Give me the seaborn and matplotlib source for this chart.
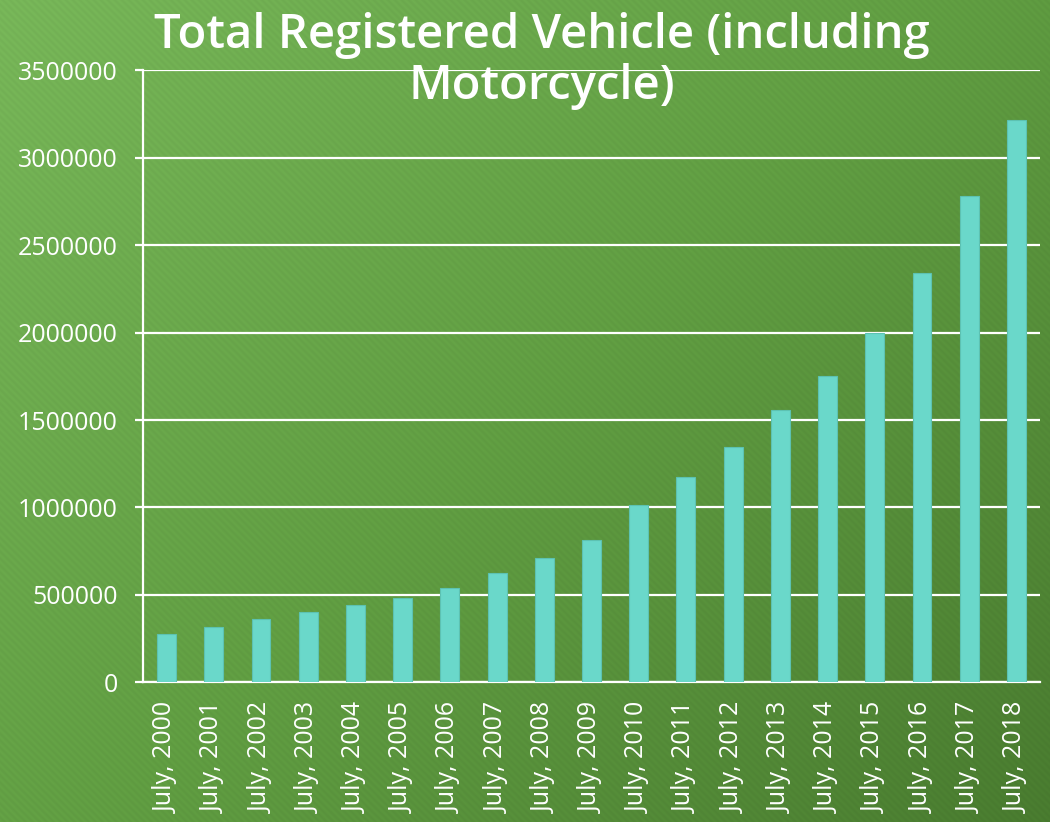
import numpy as np
import pandas as pd
import matplotlib
matplotlib.use("Agg")
import matplotlib.pyplot as plt
import seaborn as sns
from matplotlib.colors import LinearSegmentedColormap

# data
years = list(range(2000, 2019))
labels = ["July, %d" % y for y in years]
vehicles = [275000, 316000, 362000, 402000, 442000, 482000, 538000, 625000,
            711000, 814000, 1014000, 1176000, 1347000, 1556000, 1752000,
            1996000, 2339000, 2781000, 3216000]
ytick_values = [0, 500000, 1000000, 1500000, 2000000, 2500000, 3000000, 3500000]

df = pd.DataFrame({"label": labels, "vehicles": vehicles})

sns.set_style("white")
plt.rcParams["font.family"] = ["Open Sans", "DejaVu Sans"]

fig = plt.figure(figsize=(10.5, 8.22), dpi=100)

# green diagonal gradient background with faint stripes
bg = fig.add_axes([0, 0, 1, 1], zorder=-10)
h, w = 822, 1050
yy, xx = np.mgrid[0:h, 0:w]
t = (xx / w * 0.55 + yy / h * 0.45)
stripes = 0.5 + 0.5 * np.sin((xx - yy) * 2 * np.pi / 7.0)
cmap = LinearSegmentedColormap.from_list("bg", ["#79B95A", "#62A043", "#4A7D30"])
img = cmap(t)[..., :3]
img = img * (1 - 0.035 * stripes[..., None])
bg.imshow(img, aspect="auto", extent=[0, 1, 0, 1], interpolation="nearest")
bg.axis("off")

ax = fig.add_axes([143 / 1050, 1 - 682.3 / 822, (1040 - 143) / 1050, (682.3 - 70.3) / 822])
ax.set_facecolor("none")

sns.barplot(data=df, x="label", y="vehicles", color="#6AD8CA", width=0.4,
            saturation=1, edgecolor="#5CC2B2", linewidth=0.8, ax=ax, zorder=3)

ax.set_ylim(0, 3500000)
ax.set_xlim(-0.5, len(labels) - 0.5)
ax.set_yticks(ytick_values)
ax.set_yticklabels([str(v) for v in ytick_values])
ax.yaxis.grid(True, color="white", linewidth=1.6, zorder=1)
ax.set_axisbelow(True)

ax.set_xticks(np.arange(-0.5, len(labels), 1), minor=True)
ax.tick_params(axis="x", which="minor", length=6, width=1.6, color="white", direction="out")
ax.tick_params(axis="x", which="major", length=0, pad=14, labelsize=18, labelcolor="white",
               labelrotation=90)
ax.tick_params(axis="y", length=6, width=1.6, color="white", pad=12, labelsize=18,
               labelcolor="white", direction="out", left=True)

for s in ["top", "right"]:
    ax.spines[s].set_visible(False)
for s in ["left", "bottom"]:
    ax.spines[s].set_color("white")
    ax.spines[s].set_linewidth(1.6)

ax.set_xlabel("")
ax.set_ylabel("")

fig.text(542 / 1050, 1 - 12 / 822, "Total Registered Vehicle (including\nMotorcycle)",
         ha="center", va="top", color="white", fontsize=34, linespacing=1.12,
         fontweight="semibold", zorder=5)

fig.savefig("out.png", dpi=100)
